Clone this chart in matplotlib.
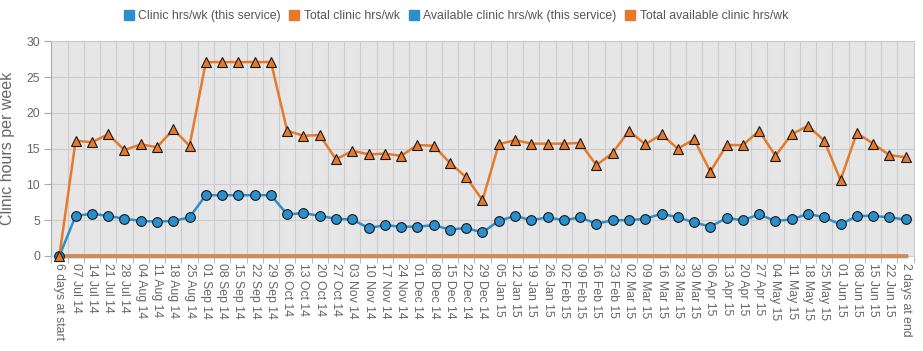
import matplotlib
matplotlib.use("Agg")
import matplotlib.pyplot as plt

plt.rcParams["font.family"] = ["Liberation Sans", "DejaVu Sans"]

weeks = [
    "6 days at start", "07 Jul 14", "14 Jul 14", "21 Jul 14", "28 Jul 14",
    "04 Aug 14", "11 Aug 14", "18 Aug 14", "25 Aug 14", "01 Sep 14",
    "08 Sep 14", "15 Sep 14", "22 Sep 14", "29 Sep 14", "06 Oct 14",
    "13 Oct 14", "20 Oct 14", "27 Oct 14", "03 Nov 14", "10 Nov 14",
    "17 Nov 14", "24 Nov 14", "01 Dec 14", "08 Dec 14", "15 Dec 14",
    "22 Dec 14", "29 Dec 14", "05 Jan 15", "12 Jan 15", "19 Jan 15",
    "26 Jan 15", "02 Feb 15", "09 Feb 15", "16 Feb 15", "23 Feb 15",
    "02 Mar 15", "09 Mar 15", "16 Mar 15", "23 Mar 15", "30 Mar 15",
    "06 Apr 15", "13 Apr 15", "20 Apr 15", "27 Apr 15", "04 May 15",
    "11 May 15", "18 May 15", "25 May 15", "01 Jun 15", "08 Jun 15",
    "15 Jun 15", "22 Jun 15", "2 days at end",
]

clinic_service = [
    0.0, 5.6, 5.9, 5.6, 5.2, 4.9, 4.8, 4.9, 5.4, 8.5,
    8.5, 8.5, 8.5, 8.5, 5.8, 6.0, 5.6, 5.2, 5.1, 3.9,
    4.3, 4.1, 4.1, 4.3, 3.7, 3.9, 3.3, 4.9, 5.6, 5.0,
    5.4, 5.0, 5.4, 4.5, 5.0, 5.0, 5.2, 5.9, 5.4, 4.7,
    4.1, 5.3, 5.0, 5.8, 4.9, 5.1, 5.9, 5.4, 4.4, 5.6,
    5.6, 5.4, 5.1,
]

clinic_total = [
    0.0, 16.1, 15.9, 17.0, 14.8, 15.6, 15.2, 17.7, 15.4, 27.1,
    27.1, 27.1, 27.1, 27.1, 17.5, 16.8, 16.9, 13.5, 14.7, 14.2,
    14.3, 14.0, 15.5, 15.4, 13.0, 11.0, 7.8, 15.6, 16.2, 15.7,
    15.7, 15.7, 15.8, 12.7, 14.4, 17.5, 15.6, 17.0, 15.0, 16.3,
    11.8, 15.5, 15.5, 17.5, 14.0, 17.0, 18.2, 16.1, 10.6, 17.2,
    15.7, 14.1, 13.8,
]

available_service = [0.0] * len(weeks)
available_total = [0.0] * len(weeks)

BLUE = "#2a8fcc"
ORANGE = "#e67a2c"
GREY = "#666666"

fig = plt.figure(figsize=(9.23, 3.51), dpi=100)
ax = fig.add_axes([0.0555, 0.2707, 0.9345, 0.6116])
ax.set_facecolor("#e6e6e6")

x = list(range(len(weeks)))

ax.plot(x, available_service, color=BLUE, lw=2.5, clip_on=False, zorder=3,
        label="Available clinic hrs/wk (this service)")
ax.plot(x, available_total, color="#d68b55", lw=2.8, clip_on=False, zorder=3.1,
        label="Total available clinic hrs/wk")
ax.plot(x, clinic_service, color=BLUE, lw=1.8, marker="o", ms=7,
        mfc=BLUE, mec="#1a1a1a", mew=0.8, clip_on=False, zorder=4,
        label="Clinic hrs/wk (this service)")
ax.plot(x, clinic_total, color=ORANGE, lw=1.8, marker="^", ms=7.5,
        mfc=ORANGE, mec="#1a1a1a", mew=0.8, clip_on=False, zorder=5,
        label="Total clinic hrs/wk")

ax.set_xlim(-0.5, len(weeks) - 0.5)
ax.set_ylim(0, 30)
ax.set_yticks(range(0, 31, 5))

ax.set_xticks(x)
ax.set_xticklabels(weeks, rotation=-90, fontsize=8.8, color=GREY)
ax.set_xticks([i - 0.5 for i in range(len(weeks) + 1)], minor=True)
ax.tick_params(axis="x", which="major", length=0, pad=5)
ax.tick_params(axis="x", which="minor", length=5, color="#aaaaaa", direction="out")
ax.tick_params(axis="y", length=5, color="#aaaaaa", labelsize=8.8,
               labelcolor=GREY, pad=3)

ax.grid(True, which="minor", axis="x", color="#cccccc", lw=0.8)
ax.grid(True, which="major", axis="y", color="#cccccc", lw=0.8)
ax.set_axisbelow(True)

for side in ["top", "right", "bottom"]:
    ax.spines[side].set_color("#cccccc")
ax.spines["left"].set_color("#aaaaaa")

ax.set_ylabel("Clinic hours per week", fontsize=11.5, color=GREY, labelpad=8)

handles = [
    plt.Line2D([], [], ls="none", marker="s", ms=7, color=BLUE),
    plt.Line2D([], [], ls="none", marker="s", ms=7, color=ORANGE),
    plt.Line2D([], [], ls="none", marker="s", ms=7, color=BLUE),
    plt.Line2D([], [], ls="none", marker="s", ms=7, color=ORANGE),
]
labels = [
    "Clinic hrs/wk (this service)", "Total clinic hrs/wk",
    "Available clinic hrs/wk (this service)", "Total available clinic hrs/wk",
]
leg = fig.legend(handles, labels, loc="center", bbox_to_anchor=(0.494, 0.953),
                 ncol=4, frameon=False, fontsize=8.8, handlelength=0.8,
                 handletextpad=0.4, columnspacing=0.7)
for t in leg.get_texts():
    t.set_color("#555555")

fig.savefig("out.png", dpi=100)
